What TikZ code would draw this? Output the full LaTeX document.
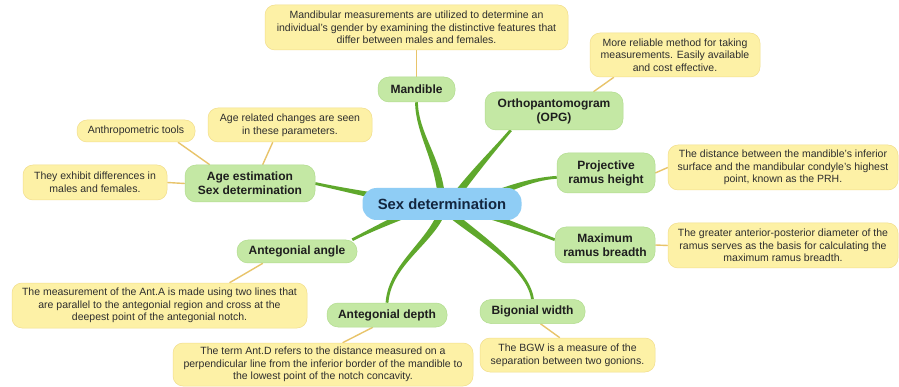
\documentclass[tikz,border=0pt]{standalone}
\usepackage{fontspec}
\setmainfont{Liberation Sans}
\usetikzlibrary{calc,backgrounds}
\definecolor{branchgreen}{HTML}{5FA82C}
\definecolor{nodegreen}{HTML}{C4E8A4}
\definecolor{nodegreenline}{HTML}{B2DC8E}
\definecolor{noteyellow}{HTML}{FDF1A6}
\definecolor{noteline}{HTML}{F2DE8C}
\definecolor{centreblue}{HTML}{8FCDF5}
\definecolor{linkgold}{HTML}{E8C46A}
\definecolor{notetext}{HTML}{2E2E2E}
\definecolor{nodetext}{HTML}{1E1E1E}
\definecolor{centretext}{HTML}{13263F}
\newcommand\branchto[6]{%
  \fill[branch] ($(#1)!#5!90:(#2)$) .. controls ($(#2)!#5!-90:(#1)$) and ($(#3)!#6!90:(#4)$) .. ($(#4)!#6!-90:(#3)$)
    -- ($(#4)!#6!90:(#3)$) .. controls ($(#3)!#6!-90:(#4)$) and ($(#2)!#5!90:(#1)$) .. ($(#1)!#5!-90:(#2)$) -- cycle;}
\tikzset{
  topic/.style={fill=nodegreen, draw=nodegreenline, line width=0.5pt, rounded corners=11pt, inner sep=0pt,
    align=center, text=nodetext, font=\fontsize{12}{14}\selectfont\bfseries},
  note/.style={fill=noteyellow, draw=noteline, line width=0.5pt, rounded corners=10pt, inner sep=0pt,
    align=center, text=notetext, font=\fontsize{10.5}{12.7}\selectfont},
  centre/.style={fill=centreblue, rounded corners=14pt, inner sep=0pt, align=center, text=centretext,
    font=\fontsize{14.8}{17}\selectfont\bfseries},
  branch/.style={fill=branchgreen},
  link/.style={draw=linkgold, line width=1.4pt},
}
\begin{document}
\begin{tikzpicture}[x=1pt,y=-1pt]
\useasboundingbox (0,0) rectangle (899,387);
% centre
\node[centre, minimum width=159pt, minimum height=32pt] (c) at (442,204) {Sex determination};
% topics
\node[topic, minimum width=77pt, minimum height=25pt] (mand) at (416.5,89.5) {Mandible};
\node[topic, minimum width=138pt, minimum height=38pt] (opg) at (554,111) {Orthopantomogram\\(OPG)};
\node[topic, minimum width=98pt, minimum height=40pt] (prh) at (606,173) {Projective\\ramus height};
\node[topic, minimum width=100pt, minimum height=36pt] (mrb) at (605,245) {Maximum\\ramus breadth};
\node[topic, minimum width=105pt, minimum height=24pt] (bgw) at (532.5,311.5) {Bigonial width};
\node[topic, minimum width=120pt, minimum height=24pt] (ad) at (387,315) {Antegonial depth};
\node[topic, minimum width=120pt, minimum height=23pt] (aa) at (297,251.5) {Antegonial angle};
\node[topic, minimum width=130pt, minimum height=37pt] (age) at (250,183.5) {Age estimation\\Sex determination};
% notes
\node[note, minimum width=303pt, minimum height=45pt] (mandnote) at (416.5,27.5)
  {Mandibular measurements are utilized to determine an\\individual's gender by examining the distinctive features that\\differ between males and females.};
\node[note, minimum width=170pt, minimum height=44pt] (opgnote) at (675,55)
  {More reliable method for taking\\measurements. Easily available\\and cost effective.};
\node[note, minimum width=230pt, minimum height=45pt] (prhnote) at (783,167.5)
  {The distance between the mandible's inferior\\surface and the mandibular condyle's highest\\point, known as the PRH.};
\node[note, minimum width=230pt, minimum height=45pt] (mrbnote) at (783,245.5)
  {The greater anterior-posterior diameter of the\\ramus serves as the basis for calculating the\\maximum ramus breadth.};
\node[note, minimum width=175pt, minimum height=34pt] (bgwnote) at (567.5,355)
  {The BGW is a measure of the\\separation between two gonions.};
\node[note, minimum width=300pt, minimum height=43pt] (adnote) at (323,364.5)
  {The term Ant.D refers to the distance measured on a\\perpendicular line from the inferior border of the mandible to\\the lowest point of the notch concavity.};
\node[note, minimum width=295pt, minimum height=45pt] (aanote) at (159.5,305.5)
  {The measurement of the Ant.A is made using two lines that\\are parallel to the antegonial region and cross at the\\deepest point of the antegonial notch.};
\node[note, minimum width=164pt, minimum height=34pt] (agenote) at (290,125)
  {Age related changes are seen\\in these parameters.};
\node[note, minimum width=118pt, minimum height=22pt] (anthro) at (136,131) {Anthropometric tools};
\node[note, minimum width=144pt, minimum height=35pt] (exhibit) at (95,182.5)
  {They exhibit differences in\\males and females.};
% branch start points (inside the centre node)
\coordinate (sMand) at (442,204);
\coordinate (sOpg) at (450,204);
\coordinate (sPrh) at (470,204);
\coordinate (sMrb) at (458,205);
\coordinate (sBgw) at (440,205);
\coordinate (sAd) at (444,205);
\coordinate (sAa) at (425,206);
\coordinate (sAge) at (420,204);
\begin{scope}[on background layer]
  \fill[white] (0,0) rectangle (899,387);
  \branchto{sMand}{440,160}{417,135}{mand.south}{3.7pt}{1.4pt}
  \branchto{sOpg}{470,176}{494,150}{opg.-156}{3.7pt}{1.4pt}
  \branchto{sPrh}{505,190}{530,179}{prh.185}{3.7pt}{1.4pt}
  \branchto{sMrb}{490,216}{525,228}{mrb.174}{3.7pt}{1.4pt}
  \branchto{sBgw}{470,232}{528,265}{bgw.north}{3.7pt}{1.4pt}
  \branchto{sAd}{436,240}{390,262}{ad.north}{3.7pt}{1.4pt}
  \branchto{sAa}{400,217}{375,228}{aa.12}{3.7pt}{1.4pt}
  \branchto{sAge}{385,198}{345,190}{age.east}{3.7pt}{1.4pt}
  \draw[link] (mand.north) -- (mandnote.south);
  \draw[link] (opg.26) -- (opgnote.-160);
  \draw[link] (prh.east) -- (prhnote.west);
  \draw[link] (mrb.east) -- (mrbnote.west);
  \draw[link] (bgw.-57) -- (bgwnote.114);
  \draw[link] (ad.-139) -- (adnote.48);
  \draw[link] (aa.-161) -- (aanote.18);
  \draw[link] (age.155) -- (anthro.-15);
  \draw[link] (age.56) -- (agenote.-135);
  \draw[link] (age.west) -- (exhibit.east);
\end{scope}
\end{tikzpicture}
\end{document}
